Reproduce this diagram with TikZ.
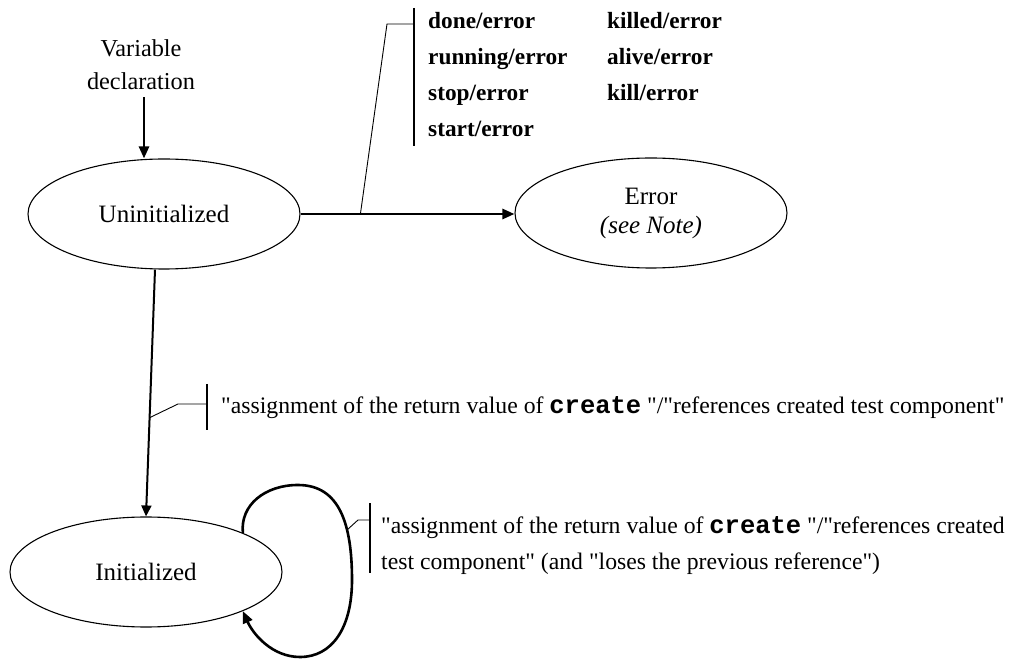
\documentclass[tikz,border=0pt]{standalone}
\usepackage{fontspec}
\setmainfont{Liberation Serif}[Ligatures=TeXOff]
\setmonofont{Liberation Mono}[Ligatures=TeXOff]
\usetikzlibrary{arrows.meta,shapes.geometric,calc}
\newcommand{\kw}[1]{{\fontsize{25.5}{30}\selectfont\bfseries\ttfamily #1}}
\begin{document}
\begin{tikzpicture}[x=1pt,y=-1pt,
  state/.style={draw,ellipse,line width=1.1pt,minimum width=272pt,minimum height=110pt,
                inner sep=0pt,font=\fontsize{25}{29}\selectfont},
  flow/.style={line width=2.6pt,-{Triangle[length=12pt,width=10pt]}},
  leader/.style={line width=0.9pt},
  bar/.style={line width=2.6pt},
  lbl/.style={inner sep=0pt,anchor=base west,font=\fontsize{23.3}{28}\selectfont\bfseries},
  note/.style={inner sep=0pt,anchor=base west,font=\fontsize{23.7}{36}\selectfont}]
\useasboundingbox (0,0) rectangle (1013,660);

% states
\node[state] (uninit) at (164,214) {Uninitialized};
\node[state,align=center] (error) at (651,213) {Error\\\textit{(see Note)}};
\node[state] (init) at (146,572) {Initialized};

% entry
\node[inner sep=0pt,align=center,font=\fontsize{24.3}{33}\selectfont] (vd) at (141,65) {Variable\\declaration};
\coordinate (vdout) at ($(vd.south)+(3,7)$);
\draw[flow] (vdout) -- (vdout |- uninit.north);

% Uninitialized -> Error
\draw[flow] (uninit.east) -- (uninit.east -| error.west);
\coordinate (ea) at ($(uninit.east)!0.28!(error.west)$);
\coordinate (ebend) at (387,24);
\coordinate (etop) at (414,8);
\coordinate (ebot) at (414,146);
\draw[bar] (etop) -- (ebot);
\draw[leader] (ea) -- (ebend) -- (ebend -| etop);
\node[lbl] (l1) at (428,29) {done/error};
\node[lbl] (l2) at (428,65) {running/error};
\node[lbl] (l3) at (428,101) {stop/error};
\node[lbl] (l4) at (428,137) {start/error};
\node[lbl] (r1) at (607,29) {killed/error};
\node[lbl] (r2) at (607,65) {alive/error};
\node[lbl] (r3) at (607,101) {kill/error};

% Uninitialized -> Initialized
\coordinate (us) at ($(uninit.south)+(-9,0)$);
\draw[flow,line width=2pt,-{Triangle[length=11pt,width=10pt]}] (us) -- (init.north);
\coordinate (ma) at ($(us)!0.6!(init.north)$);
\coordinate (mbend) at (178,404);
\coordinate (mtop) at (207,384);
\coordinate (mbot) at (207,430);
\draw[bar] (mtop) -- (mbot);
\draw[leader] (ma) -- (mbend) -- (mbend -| mtop);
\node[note] (mlabel) at (221,414) {"assignment of the return value of \kw{create} "/"references created test component"};

% Initialized -> Initialized
\draw[flow] (init.22) .. controls (240,505) and (265,485) .. (298,485)
  .. controls (340,485) and (352,525) .. (352,580)
  .. controls (352,628) and (332,657) .. (300,657)
  .. controls (272,657) and (253,634) .. (init.-22);
\coordinate (lp) at (347,530);
\coordinate (lbend) at (358,520);
\coordinate (ltop) at (370,503);
\coordinate (lbot) at (370,573);
\draw[bar] (ltop) -- (lbot);
\draw[leader] (lp) -- (lbend) -- (lbend -| ltop);
\node[note] (llabel1) at (381,533) {"assignment of the return value of \kw{create} "/"references created};
\node[note] (llabel2) at (381,569) {test component" (and "loses the previous reference")};
\end{tikzpicture}
\end{document}
